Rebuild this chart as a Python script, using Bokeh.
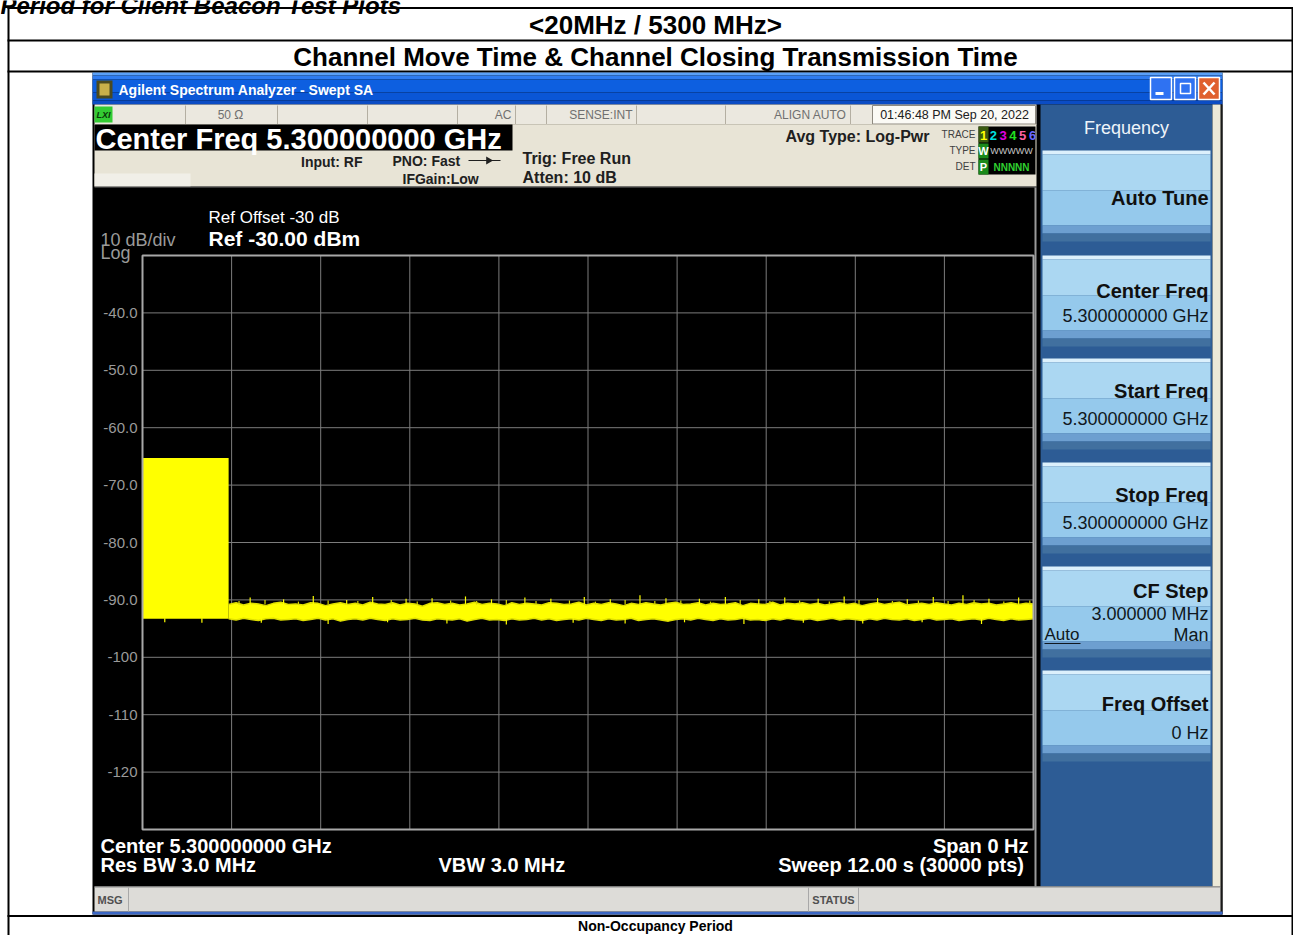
import numpy as np
from bokeh.plotting import figure
from bokeh.models import Range1d
from bokeh.core.properties import value
from bokeh.embed import file_html
from bokeh.resources import INLINE

# ---------------- data ----------------
sweep_time_s = 12.0
ref_level_dbm = -30.0
db_per_div = 10.0
n_div = 10
y_tick_values = [-40, -50, -60, -70, -80, -90, -100, -110, -120]
y_tick_labels = ["-40.0", "-50.0", "-60.0", "-70.0", "-80.0", "-90.0", "-100", "-110", "-120"]

# transmission burst at the start of the sweep (solid yellow block)
burst_t = [0.0, 1.16]
burst_top = [-65.3, -65.3]
burst_bottom = [-93.3, -93.3]

# noise-floor envelope after the burst (upper / lower edge, read every ~0.1 s)
noise_hi = [-90.8, -90.5, -90.9, -90.6, -90.7, -91.0, -90.6, -90.4, -90.8, -90.7,
            -90.9, -90.5, -90.6, -91.0, -90.7, -90.5, -90.8, -90.6, -90.9, -90.4,
            -90.7, -90.8, -90.5, -90.9, -90.6, -90.7, -91.1, -90.6, -90.5, -90.8,
            -90.6, -90.9, -90.7, -90.4, -90.8, -90.6, -90.7, -91.0, -90.5, -90.8,
            -90.6, -90.7, -90.9, -90.5, -90.6, -90.8, -90.7, -90.4, -90.9, -90.6,
            -90.8, -90.5, -90.7, -91.0, -90.6, -90.8, -90.5, -90.7, -90.9, -90.6,
            -90.4, -90.8, -90.7, -90.5, -90.9, -90.6, -90.8, -90.7, -90.5, -91.0,
            -90.6, -90.7, -90.8, -90.4, -90.9, -90.6, -90.7, -90.5, -90.8, -90.6,
            -90.9, -90.7, -90.5, -90.8, -90.6, -91.0, -90.7, -90.5, -90.8, -90.6,
            -90.4, -90.9, -90.7, -90.6, -90.8, -90.5, -90.7, -90.9, -90.6, -90.8,
            -90.5, -90.7, -90.6, -90.9, -90.7, -90.5, -90.8, -90.6, -90.7]
noise_lo = [-93.3, -93.5, -93.2, -93.4, -93.6, -93.3, -93.2, -93.5, -93.4, -93.3,
            -93.6, -93.4, -93.2, -93.5, -93.3, -93.7, -93.4, -93.3, -93.5, -93.2,
            -93.4, -93.6, -93.3, -93.5, -93.4, -93.2, -93.5, -93.6, -93.3, -93.4,
            -93.5, -93.3, -93.7, -93.4, -93.2, -93.5, -93.4, -93.6, -93.3, -93.5,
            -93.4, -93.2, -93.5, -93.3, -93.6, -93.4, -93.3, -93.5, -93.2, -93.4,
            -93.6, -93.3, -93.5, -93.4, -93.2, -93.6, -93.4, -93.3, -93.5, -93.7,
            -93.4, -93.3, -93.5, -93.2, -93.4, -93.6, -93.3, -93.5, -93.4, -93.2,
            -93.5, -93.4, -93.6, -93.3, -93.5, -93.2, -93.4, -93.5, -93.3, -93.6,
            -93.4, -93.2, -93.5, -93.3, -93.4, -93.6, -93.3, -93.5, -93.2, -93.4,
            -93.5, -93.3, -93.6, -93.4, -93.2, -93.5, -93.4, -93.3, -93.6, -93.4,
            -93.3, -93.5, -93.2, -93.4, -93.6, -93.3, -93.5, -93.4, -93.3]
noise_t = np.linspace(1.16, 12.0, len(noise_hi))

# isolated peaks above the noise floor and dips below it
spike_t = [1.45, 1.9, 2.3, 2.75, 3.1, 3.55, 3.9, 4.35, 4.7, 5.15, 5.5, 5.95, 6.3, 6.7,
           7.05, 7.5, 7.85, 8.3, 8.65, 9.1, 9.45, 9.9, 10.3, 10.65, 11.05, 11.4, 11.8]
spike_peak = [-89.6, -89.9, -89.3, -90.0, -89.5, -89.8, -89.7, -89.4, -89.9, -89.6, -89.8,
              -89.5, -89.9, -89.2, -89.7, -89.8, -89.5, -89.9, -89.6, -89.8, -89.4, -89.7,
              -89.9, -89.5, -89.2, -89.8, -89.6]
small_spike_t = [1.3, 1.65, 2.1, 2.5, 2.9, 3.35, 3.7, 4.15, 4.5, 4.9, 5.3, 5.75, 6.1, 6.5,
                 6.9, 7.25, 7.65, 8.05, 8.45, 8.85, 9.25, 9.65, 10.1, 10.45, 10.85, 11.2,
                 11.6, 11.95]
small_spike_peak = [-90.2, -90.0, -90.3, -90.1, -90.2, -90.0, -90.3, -90.1, -90.2, -90.0,
                    -90.2, -90.1, -90.3, -90.0, -90.2, -90.1, -90.3, -90.0, -90.2, -90.1,
                    -90.3, -90.0, -90.2, -90.1, -90.2, -90.0, -90.3, -90.1]
dip_t = [0.3, 0.8, 1.6, 2.5, 3.3, 4.1, 4.9, 5.8, 6.5, 7.3, 8.1, 8.9, 9.7, 10.5, 11.3]
dip_low = [-93.9, -94.0, -94.0, -94.2, -93.9, -94.1, -94.3, -94.0, -94.1, -93.9, -94.2,
           -94.0, -94.1, -93.9, -94.2]

# ---------------- layout (pixel positions of the picture) ----------------
W, H = 1293, 935
GX0, GX1, GY0, GY1 = 142, 1033, 255, 829   # graticule box

t_pp = sweep_time_s / (GX1 - GX0)
db_pp = (db_per_div * n_div) / (GY1 - GY0)
db_bot = ref_level_dbm - db_per_div * n_div

p = figure(width=W, height=H, x_range=Range1d(0, W), y_range=Range1d(H, 0),
           output_backend="svg", toolbar_location=None, min_border=0,
           x_axis_location=None, y_axis_location=None,
           background_fill_color="white", border_fill_color="white",
           outline_line_color=None)
p.grid.visible = False
p.extra_x_ranges = {"t": Range1d(0 - GX0 * t_pp, sweep_time_s + (W - GX1) * t_pp)}
p.extra_y_ranges = {"db": Range1d(db_bot - (H - GY1) * db_pp, ref_level_dbm + GY0 * db_pp)}

AR = "Liberation Sans"


def R(x0, y0, x1, y1, color, line=None, lw=1):
    p.quad(left=[x0], right=[x1], top=[y0], bottom=[y1], fill_color=color,
           line_color=line, line_width=lw)


def L(x0, y0, x1, y1, color="black", lw=1):
    p.segment(x0=[x0], y0=[y0], x1=[x1], y1=[y1], line_color=color, line_width=lw)


def T(x, y, s, size, color="black", bold=False, italic=False, align="left",
      baseline="middle", font=AR):
    style = "normal"
    if bold and italic:
        style = "bold italic"
    elif bold:
        style = "bold"
    elif italic:
        style = "italic"
    p.text(x=[x], y=[y], text=[s], text_font=value(font), text_font_size=value(f"{size}px"),
           text_color=color, text_align=align, text_baseline=baseline, text_font_style=style)


# ---------------- document table ----------------
T(0, 5, "Period for Client Beacon Test Plots", 24, bold=True, italic=True, baseline="alphabetic")
for yy in (7.5, 40, 71, 915.5):
    L(7, yy, W, yy, "black", 2)
L(8, 7, 8, H, "black", 2)
L(1292, 7, 1292, H, "black", 2)
T(655, 24, "<20MHz / 5300 MHz>", 26, bold=True, align="center")
T(655, 56, "Channel Move Time & Channel Closing Transmission Time", 26, bold=True, align="center")
T(655, 925, "Non-Occupancy Period", 14, bold=True, align="center", baseline="middle")

# ---------------- analyzer window ----------------
R(92, 72, 1222, 914, "black")
# title bar (XP blue)
for a, b, c in ((72, 75, "#5aa0f8"), (75, 79, "#2f7cf0"), (79, 92, "#0d5fe0"),
                (92, 100, "#0a56d6"), (100, 104, "#0b4cc4")):
    R(92, a, 1222, b, c)
R(96, 80, 112, 98, "#4a4a20")
R(99, 83, 109, 95, "#c9b04a")
T(118, 89, "Agilent Spectrum Analyzer - Swept SA", 14, "white", bold=True)
R(1150, 77, 1171, 99, "#2f72f2", "white", 1.5)
L(1155, 93, 1163, 93, "white", 3)
R(1174, 77, 1195, 99, "#2f72f2", "white", 1.5)
R(1180, 83, 1190, 93, None, "white", 1.5)
R(1198, 77, 1219, 99, "#e0602e", "white", 1.5)
L(1203, 82, 1214, 94, "white", 2.5)
L(1214, 82, 1203, 94, "white", 2.5)
# window frame edges
R(1220, 104, 1222, 914, "#1a1a1a")
R(92, 911, 1222, 914, "#3a66c4")

# status row
R(94, 104, 1036, 124, "#ebe8df")
L(94, 124, 1036, 124, "#a9a497", 1)
R(94, 106, 112, 122, "#33cc33")
T(103, 114.5, "LXI", 9, "#083808", bold=True, italic=True, align="center")
for xs in (185, 277, 367, 457, 515, 546, 636, 725, 850):
    L(xs, 105, xs, 124, "#b4afa2", 1)
T(230, 114.5, "50 Ω", 12, "#707070", align="center")
T(511, 114.5, "AC", 12, "#707070", align="right")
T(632, 114.5, "SENSE:INT", 12, "#707070", align="right")
T(846, 114.5, "ALIGN AUTO", 12, "#707070", align="right")
R(872, 105, 1035, 123.5, "#fbfaf5", "#8e8a80", 1)
T(954, 114.5, "01:46:48 PM Sep 20, 2022", 12.5, "#202020", align="center")

# info area
R(94, 124, 1036, 186, "#e8e4d6")
R(94, 173, 190, 186, "#f1efe8")
L(94, 186.5, 1036, 186.5, "#707070", 1)
R(94, 124, 512, 150, "black")
T(95, 138, "Center Freq  5.300000000 GHz", 29, "white", bold=True)
T(362, 161, "Input: RF", 14, "#202020", bold=True, align="right")
T(392, 160, "PNO: Fast", 14, "#202020", bold=True)
L(468, 160, 500, 160, "#202020", 1.2)
p.scatter(x=[488], y=[160], marker="triangle", size=8, angle=-np.pi / 2,
          fill_color="#202020", line_color=None)
T(402, 178, "IFGain:Low", 14, "#202020", bold=True)
T(522, 158, "Trig: Free Run", 16, "#202020", bold=True)
T(522, 177, "Atten: 10 dB", 16, "#202020", bold=True)
T(785, 136, "Avg Type: Log-Pwr", 16, "#202020", bold=True)
T(975, 134, "TRACE", 10, "#404040", align="right")
T(975, 150, "TYPE", 10, "#404040", align="right")
T(975, 166, "DET", 10, "#404040", align="right")
R(978, 126, 1035, 174, "black")
R(978, 126, 988, 142, "#3a5a10")
R(978, 143, 988, 158, "#1b8a1b")
R(978, 159, 988, 174, "#1b8a1b")
for i, (ch, col) in enumerate(zip("123456", ["#ffff00", "#00e0e0", "#e000e0", "#20e020",
                                            "#ff60a0", "#6a6aff"])):
    T(983 + i * 9.8, 134.5, ch, 13, col, bold=True, align="center")
T(983, 150.5, "W", 11, "white", bold=True, align="center")
T(1011, 150.5, "WWWWW", 9, "#c8c8c8", align="center")
T(983, 166.5, "P", 11, "white", bold=True, align="center")
T(1011, 166.5, "NNNNN", 10, "#30d030", bold=True, align="center")

# plot window right border
L(1035, 187, 1035, 886, "#9a9a9a", 2)

# ---------------- softkey panel ----------------
PX0, PX1 = 1040, 1212
R(PX0, 104, PX1, 886, "#2d5c95")
R(PX1, 104, 1220, 886, "#ece9d8")
T((PX0 + PX1) / 2, 127, "Frequency", 18, "#eef4fa", align="center")

buttons = [(150, 241), (255, 346), (358, 449), (462, 553), (566, 657), (670, 761)]
for top, bot in buttons:
    R(PX0 + 2, top, PX1 - 2, top + 4, "#dcf0fc")
    R(PX0 + 2, top + 4, PX1 - 2, top + 40, "#abd7f2")
    R(PX0 + 2, top + 40, PX1 - 2, bot - 16, "#95c9ec")
    R(PX0 + 2, bot - 16, PX1 - 2, bot - 8, "#6d9fd0")
    R(PX0 + 2, bot - 8, PX1 - 2, bot, "#41709f")

BX = PX1 - 4
T(BX, 197, "Auto Tune", 20, "#101010", bold=True, align="right")
T(BX, 290, "Center Freq", 20, "#101010", bold=True, align="right")
T(BX, 315, "5.300000000 GHz", 18, "#101820", align="right")
T(BX, 390, "Start Freq", 20, "#101010", bold=True, align="right")
T(BX, 418, "5.300000000 GHz", 18, "#101820", align="right")
T(BX, 494, "Stop Freq", 20, "#101010", bold=True, align="right")
T(BX, 522, "5.300000000 GHz", 18, "#101820", align="right")
T(BX, 590, "CF Step", 20, "#101010", bold=True, align="right")
T(BX, 613, "3.000000 MHz", 18, "#101820", align="right")
T(PX0 + 4, 634, "Auto", 17, "#101820")
L(PX0 + 4, 643, PX0 + 40, 643, "#101820", 1.2)
T(BX, 634, "Man", 18, "#101820", align="right")
T(BX, 703, "Freq Offset", 20, "#101010", bold=True, align="right")
T(BX, 732, "0 Hz", 18, "#101820", align="right")

# ---------------- message bar ----------------
R(94, 886, 1220, 911, "#dddcd8")
L(94, 886.5, 1220, 886.5, "#8c8c8c", 1)
L(128, 887, 128, 911, "#a8a8a8", 1)
L(808, 887, 808, 911, "#a8a8a8", 1)
L(858, 887, 858, 911, "#a8a8a8", 1)
T(97, 899, "MSG", 11, "#505050", bold=True)
T(833, 899, "STATUS", 11, "#505050", bold=True, align="center")

# ---------------- trace window texts ----------------
T(208, 217, "Ref Offset -30 dB", 17, "white")
T(208, 238, "Ref -30.00 dBm", 21, "white", bold=True)
T(100, 239, "10 dB/div", 18, "#9a9a9a")
T(100, 252, "Log", 18, "#9a9a9a")
T(100, 845, "Center 5.300000000 GHz", 20, "white", bold=True)
T(100, 864, "Res BW 3.0 MHz", 20, "white", bold=True)
T(438, 864, "VBW 3.0 MHz", 20, "white", bold=True)
T(1028, 845, "Span 0 Hz", 20, "white", bold=True, align="right")
T(1029, 864, "Sweep  12.00 s (30000 pts)", 20, "white", bold=True, align="right")

# ---------------- graticule (through the t / dB scales) ----------------
v_lines = [i * sweep_time_s / n_div for i in range(n_div + 1)]
h_lines = [ref_level_dbm - i * db_per_div for i in range(n_div + 1)]
p.segment(x0=v_lines[1:-1], y0=[db_bot] * (n_div - 1), x1=v_lines[1:-1],
          y1=[ref_level_dbm] * (n_div - 1), x_range_name="t", y_range_name="db",
          line_color="#7c7c7c", line_width=1)
p.segment(x0=[0.0] * (n_div - 1), y0=h_lines[1:-1], x1=[sweep_time_s] * (n_div - 1),
          y1=h_lines[1:-1], x_range_name="t", y_range_name="db",
          line_color="#7c7c7c", line_width=1)
p.text(x=[137] * len(y_tick_values), y=y_tick_values, text=y_tick_labels,
       y_range_name="db", text_font=value(AR), text_font_size=value("15px"),
       text_color="#9a9a9a", text_align="right", text_baseline="middle")

# ---------------- trace ----------------
YEL = "#ffff00"
p.varea(x=burst_t, y1=burst_bottom, y2=burst_top, x_range_name="t", y_range_name="db",
        fill_color=YEL)
p.varea(x=noise_t, y1=noise_lo, y2=noise_hi, x_range_name="t", y_range_name="db",
        fill_color=YEL)
p.line(x=noise_t, y=noise_hi, x_range_name="t", y_range_name="db", line_color="#e0e000",
       line_width=1.5)
p.line(x=noise_t, y=noise_lo, x_range_name="t", y_range_name="db", line_color="#e0e000",
       line_width=1.5)
p.segment(x0=spike_t, y0=[-90.8] * len(spike_t), x1=spike_t, y1=spike_peak,
          x_range_name="t", y_range_name="db", line_color=YEL, line_width=1.2)
p.segment(x0=small_spike_t, y0=[-90.8] * len(small_spike_t), x1=small_spike_t,
          y1=small_spike_peak, x_range_name="t", y_range_name="db", line_color="#d8d800",
          line_width=1.2)
p.segment(x0=dip_t, y0=[-93.2] * len(dip_t), x1=dip_t, y1=dip_low,
          x_range_name="t", y_range_name="db", line_color=YEL, line_width=1.2)

# graticule frame on top
p.quad(left=[0.0], right=[sweep_time_s], top=[ref_level_dbm], bottom=[db_bot],
       x_range_name="t", y_range_name="db", fill_color=None, line_color="#a8a8a8",
       line_width=2)

open("out.html", "w").write(file_html(p, INLINE))
